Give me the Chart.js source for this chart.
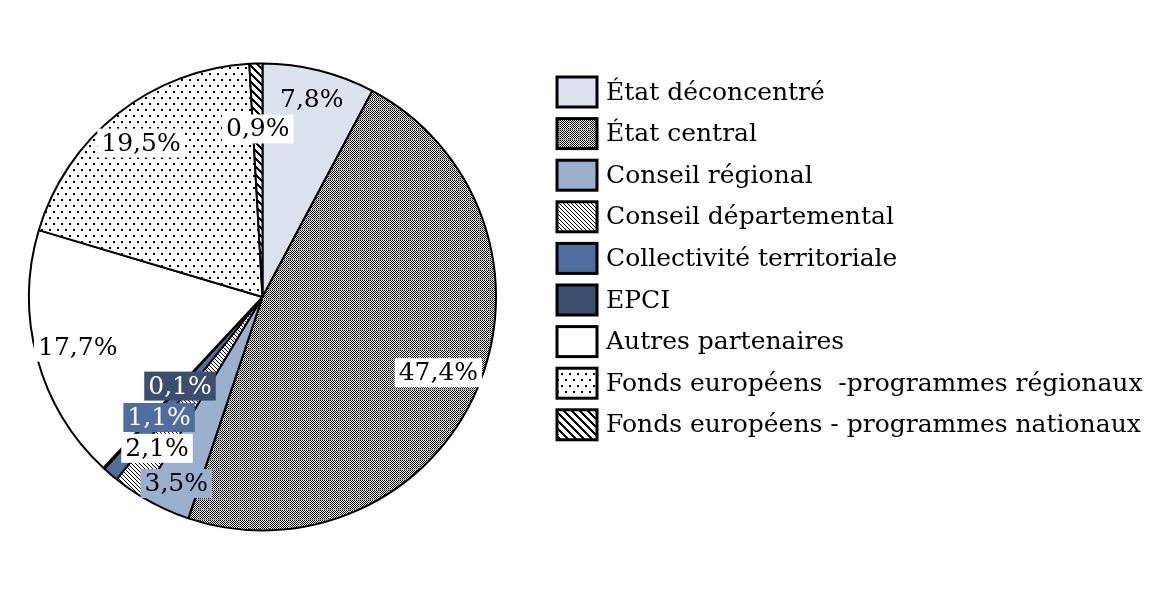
<!DOCTYPE html>
<html>
<head>
<meta charset="utf-8">
<script src="https://cdn.jsdelivr.net/npm/chart.js@4.4.1/dist/chart.umd.min.js"></script>
<style>
  html, body { margin: 0; padding: 0; background: #fff; }
  #wrap { width: 1169px; height: 596px; }
</style>
</head>
<body>
<div id="wrap"><canvas id="pie" width="1169" height="596"></canvas></div>
<script>
// Financement par partenaire (parts en %)
const categories = [
  'État déconcentré',
  'État central',
  'Conseil régional',
  'Conseil départemental',
  'Collectivité territoriale',
  'EPCI',
  'Autres partenaires',
  'Fonds européens  -programmes régionaux',
  'Fonds européens - programmes nationaux',
];
const shares = [7.8, 47.4, 3.5, 2.1, 1.1, 0.1, 17.7, 19.5, 0.9];
const shareLabels = ['7,8%', '47,4%', '3,5%', '2,1%', '1,1%', '0,1%', '17,7%', '19,5%', '0,9%'];

// label placement: fraction of the radius along each slice's middle angle
const labelRadius = [0.87, 0.82, 0.88, 0.79, 0.68, 0.52, 0.82, 0.84, 0.72];

const FONT = '"DejaVu Serif", "Liberation Serif", serif';

function tile(w, h, paint) {
  const c = document.createElement('canvas');
  c.width = w; c.height = h;
  const g = c.getContext('2d');
  g.fillStyle = '#fff';
  g.fillRect(0, 0, w, h);
  g.fillStyle = '#000';
  paint(g, w, h);
  return c.getContext('2d').createPattern(c, 'repeat');
}

const patterns = {
  checker: tile(10, 10, (g, s) => {
    for (let y = 0; y < s; y++) for (let x = 0; x < s; x++) {
      if ((x + y) % 2 === 0) g.fillRect(x, y, 1, 1);
    }
    g.fillStyle = '#9a9a9a';
    g.fillRect(s - 1, 0, 1, s);
    g.fillRect(0, s - 1, s, 1);
  }),
  thinDiag: tile(4, 4, (g, s) => {
    for (let i = 0; i < s; i++) g.fillRect(i, i, 1, 1);
  }),
  dots: tile(8, 12, (g) => {
    g.fillRect(1, 1, 2, 2);
    g.fillRect(5, 7, 2, 2);
  }),
  thickDiag: tile(8, 8, (g, s) => {
    for (let y = 0; y < s; y++) for (let x = 0; x < s; x++) {
      if (((x - y) % s + s) % s < 3) g.fillRect(x, y, 1, 1);
    }
  }),
};

const fills = [
  '#dde3ee',
  patterns.checker,
  '#9bafcf',
  patterns.thinDiag,
  '#4f6d9e',
  '#3b4e70',
  '#ffffff',
  patterns.dots,
  patterns.thickDiag,
];
const labelBg = ['#dde3ee', '#ffffff', '#9bafcf', '#ffffff', '#4f6d9e', '#3b4e70', '#ffffff', '#ffffff', '#ffffff'];
const labelInk = ['#000', '#000', '#000', '#000', '#fff', '#fff', '#000', '#000', '#000'];

const sliceLabels = {
  id: 'sliceLabels',
  afterDatasetsDraw(chart) {
    const ctx = chart.ctx;
    const arcs = chart.getDatasetMeta(0).data;
    ctx.save();
    ctx.font = '25px ' + FONT;
    ctx.textAlign = 'center';
    ctx.textBaseline = 'middle';
    arcs.forEach((arc, i) => {
      const p = arc.getProps(['x', 'y', 'startAngle', 'endAngle', 'outerRadius'], true);
      const mid = (p.startAngle + p.endAngle) / 2;
      const r = p.outerRadius * labelRadius[i];
      const x = p.x + Math.cos(mid) * r;
      const y = p.y + Math.sin(mid) * r;
      const w = ctx.measureText(shareLabels[i]).width + 8;
      const h = 29;
      ctx.fillStyle = labelBg[i];
      ctx.fillRect(x - w / 2, y - h / 2, w, h);
      ctx.fillStyle = labelInk[i];
      ctx.fillText(shareLabels[i], x, y + 1);
    });
    ctx.restore();
  },
};

const sideLegend = {
  id: 'sideLegend',
  afterDraw(chart) {
    const ctx = chart.ctx;
    const left = 557, top = 77, step = 41.6, bw = 40, bh = 30;
    ctx.save();
    ctx.font = '25px ' + FONT;
    ctx.textBaseline = 'middle';
    categories.forEach((name, i) => {
      const y = top + i * step;
      ctx.fillStyle = fills[i];
      ctx.fillRect(left, y, bw, bh);
      ctx.lineWidth = 3;
      ctx.strokeStyle = '#000';
      ctx.strokeRect(left, y, bw, bh);
      ctx.fillStyle = '#000';
      ctx.fillText(name, left + bw + 9, y + bh / 2 + 1);
    });
    ctx.restore();
  },
};

new Chart(document.getElementById('pie'), {
  type: 'pie',
  data: {
    labels: categories,
    datasets: [{
      data: shares,
      backgroundColor: fills,
      borderColor: '#000',
      borderWidth: 2,
      hoverOffset: 0,
    }],
  },
  options: {
    responsive: false,
    animation: false,
    devicePixelRatio: 1,
    layout: { padding: { left: 28, top: 62, right: 672, bottom: 64 } },
    plugins: {
      legend: { display: false },
      tooltip: { enabled: false },
    },
  },
  plugins: [sliceLabels, sideLegend],
});
</script>
</body>
</html>
